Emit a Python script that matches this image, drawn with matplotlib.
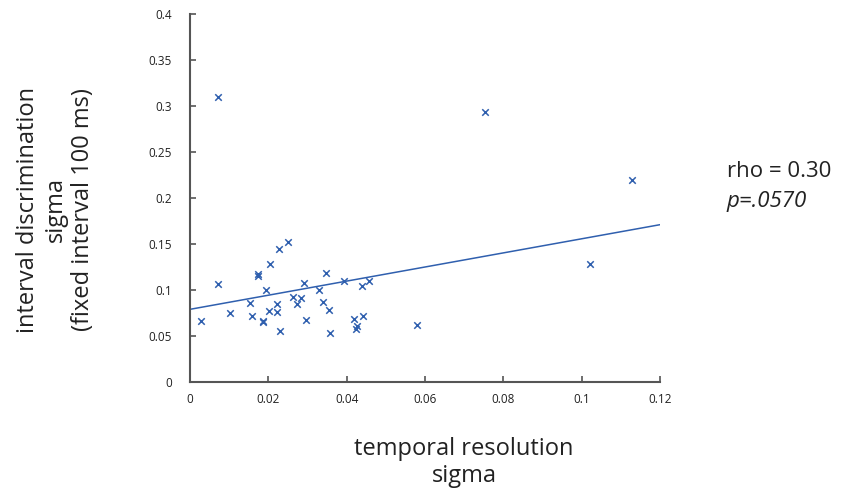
import matplotlib.pyplot as plt

plt.rcParams['font.family'] = ['Open Sans', 'DejaVu Sans']

# temporal resolution sigma (x) vs interval discrimination sigma (y)
temporal_sigma = [0.0028, 0.0072, 0.0072, 0.0102, 0.0152, 0.0159, 0.0174, 0.0174,
                  0.0187, 0.0187, 0.0195, 0.0205, 0.0202, 0.0221, 0.0221, 0.0229,
                  0.0227, 0.0251, 0.0263, 0.0274, 0.0284, 0.0292, 0.0297, 0.0328,
                  0.0339, 0.0346, 0.0354, 0.0358, 0.0394, 0.0418, 0.0423, 0.0427,
                  0.0438, 0.0441, 0.0457, 0.0579, 0.0754, 0.1020, 0.1128]
interval_sigma = [0.066, 0.310, 0.106, 0.075, 0.086, 0.072, 0.117, 0.115,
                  0.065, 0.066, 0.100, 0.128, 0.077, 0.085, 0.076, 0.055,
                  0.145, 0.152, 0.092, 0.085, 0.091, 0.108, 0.067, 0.100,
                  0.087, 0.118, 0.078, 0.053, 0.110, 0.068, 0.058, 0.061,
                  0.104, 0.072, 0.110, 0.062, 0.293, 0.128, 0.220]

fit_x = [0.0, 0.12]
fit_y = [0.079, 0.171]

blue = '#2f5fae'
text_col = '#222222'

fig = plt.figure(figsize=(8.42, 4.95), dpi=100)
ax = fig.add_axes([0.2257, 0.2283, 0.5582, 0.7434])

ax.scatter(temporal_sigma, interval_sigma, marker='x', color=blue, s=22, linewidths=1.1)
ax.plot(fit_x, fit_y, color=blue, linewidth=1.1)

ax.set_xlim(0, 0.12)
ax.set_ylim(0, 0.4)
ax.set_xticks([0, 0.02, 0.04, 0.06, 0.08, 0.1, 0.12])
ax.set_xticklabels(['0', '0.02', '0.04', '0.06', '0.08', '0.1', '0.12'])
ax.set_yticks([0, 0.05, 0.1, 0.15, 0.2, 0.25, 0.3, 0.35, 0.4])
ax.set_yticklabels(['0', '0.05', '0.1', '0.15', '0.2', '0.25', '0.3', '0.35', '0.4'])

for side in ['top', 'right']:
    ax.spines[side].set_visible(False)
for side in ['left', 'bottom']:
    ax.spines[side].set_color('#555555')
    ax.spines[side].set_linewidth(1.5)
ax.tick_params(direction='in', length=4, width=1.2, color='#555555',
               labelsize=8.5, labelcolor=text_col)
ax.tick_params(axis='x', pad=8)
ax.tick_params(axis='y', pad=13)

fig.text(0.066, 0.576, 'interval discrimination\nsigma\n(fixed interval 100 ms)',
         rotation=90, ha='center', va='center', fontsize=17, linespacing=1.2,
         color=text_col)
fig.text(0.551, 0.066, 'temporal resolution\nsigma', ha='center', va='center',
         fontsize=17, linespacing=1.2, color=text_col)
fig.text(0.863, 0.642, 'rho = 0.30', ha='left', va='baseline', fontsize=16,
         color=text_col)
fig.text(0.863, 0.582, 'p=.0570', ha='left', va='baseline', fontsize=16,
         style='italic', color=text_col)

fig.savefig('out.png', dpi=100)
